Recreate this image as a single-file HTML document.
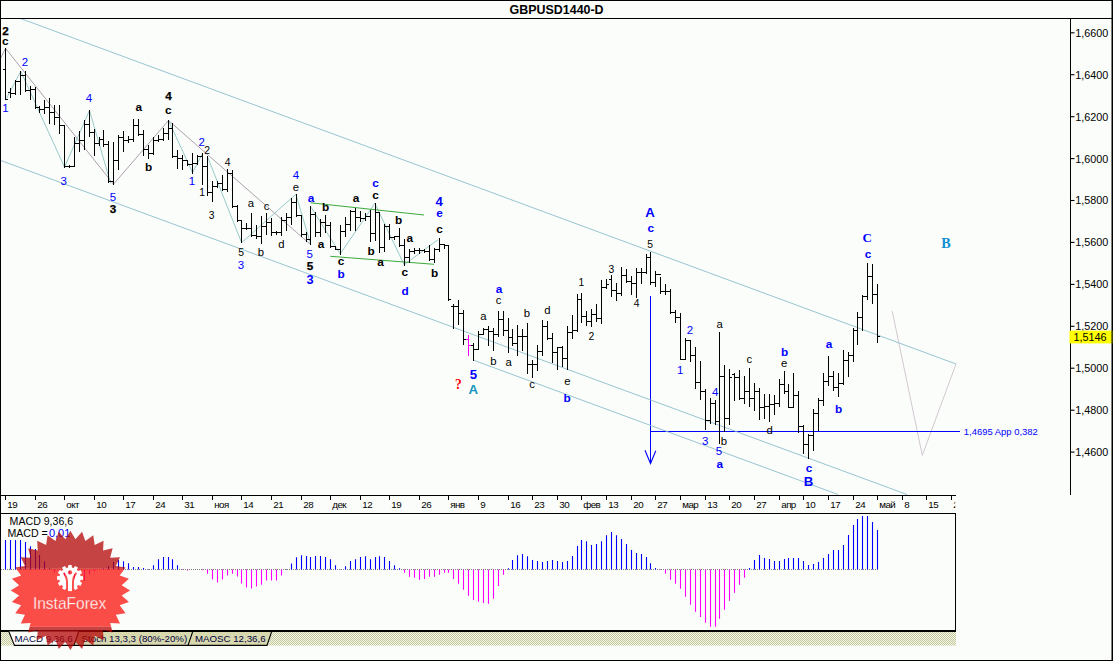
<!DOCTYPE html>
<html><head><meta charset="utf-8"><title>GBPUSD1440-D</title>
<style>
html,body{margin:0;padding:0;background:#fbfdfa;}
body{width:1113px;height:661px;overflow:hidden;font-family:"Liberation Sans",sans-serif;}
svg{display:block;font-family:"Liberation Sans",sans-serif;}
.kb{font-size:10.4px;font-weight:bold;fill:#000;stroke:#000;stroke-width:0.25px}
.kB{font-size:11.8px;font-weight:bold;fill:#000}
.b{font-size:11.5px;fill:#0000ff}
.s{font-size:10.3px;fill:#000}
.l{font-size:11.3px;fill:#000}
.bb{font-size:11.8px;font-weight:bold;fill:#0000ff}
.BM{font-size:12.8px;font-weight:bold;fill:#0000ff}
.BL{font-size:13.2px;font-weight:bold;fill:#0000ff}
.CS{font-size:13.0px;font-weight:bold;fill:#0000ff;font-family:"Liberation Serif",serif}
.TL{font-size:13.2px;font-weight:bold;fill:#1496be}
.TB{font-size:14.2px;font-weight:bold;fill:#0f8fd2;font-family:"Liberation Serif",serif}
.R{font-size:13.6px;font-weight:bold;fill:#ff0000;font-family:"Liberation Serif",serif}
.ax{font-size:10.8px;fill:#000}
.dt{font-size:9.8px;fill:#000;letter-spacing:-0.6px}
.tab{font-size:9.7px;fill:#000040}
</style></head><body>
<svg width="1113" height="661" viewBox="0 0 1113 661">
<rect x="0" y="0" width="1113" height="661" fill="#fbfdfa"/>

<g id="zigzag">
<polyline points="0.0,59.5 5.5,48.3 113.5,184.2 168.5,120.5 310.5,244.5" fill="none" stroke="#a595a5" stroke-width="0.9" />
<polyline points="6.3,98.6 20.8,71.3 64.5,167.2 89.5,110.4 110.7,183.5" fill="none" stroke="#8cc4c4" stroke-width="0.9" />
<polyline points="168.6,120.7 192.5,172.5 202.6,153.4" fill="none" stroke="#8cc4c4" stroke-width="0.9" />
<polyline points="207.6,157.0 241.6,242.6 295.9,194.3 310.7,244.5" fill="none" stroke="#8cc4c4" stroke-width="0.9" />
<polyline points="310.7,206.6 340.2,253.9 374.8,203.4 404.2,264.7 438.2,239.6" fill="none" stroke="#8cc4c4" stroke-width="0.9" />
<line x1="310.7" y1="202.8" x2="424.0" y2="215.0" stroke="#26a026" stroke-width="1.0" stroke-opacity="0.9"/>
<line x1="330.3" y1="256.3" x2="434.0" y2="264.3" stroke="#26a026" stroke-width="1.0" stroke-opacity="0.9"/>
<polyline points="892.2,311.0 922.3,455.4 956.0,364.0" fill="none" stroke="#cdc2cd" stroke-width="0.9" />
</g>
<g id="blue">
<line x1="650.5" y1="296.0" x2="650.5" y2="463.0" stroke="#0000ff" stroke-width="1" shape-rendering="crispEdges"/>
<polyline points="645.0,450.3 650.5,463.5 655.8,450.8" fill="none" stroke="#0000ff" stroke-width="1.1" />
<line x1="650.5" y1="431.5" x2="960.0" y2="431.5" stroke="#0000ff" stroke-width="1" shape-rendering="crispEdges"/>
<text x="963.8" y="435.2" textLength="74" lengthAdjust="spacingAndGlyphs" style="font-size:9.8px;fill:#0000ff">1,4695 App 0,382</text>
</g>
<g id="channels">
<line x1="20.5" y1="18.5" x2="956.0" y2="364.0" stroke="#86bbc9" stroke-width="0.85" />
<line x1="0.0" y1="160.2" x2="907.0" y2="494.5" stroke="#86bbc9" stroke-width="0.85" />
<line x1="473.0" y1="360.0" x2="838.0" y2="494.5" stroke="#86bbc9" stroke-width="0.85" />
</g>
<path d="M5.5 48V100M3.0 69.5H5.5M5.5 99.5H8.0M10.5 88V98M8.0 92.5H10.5M10.5 93.5H13.0M15.5 80V95M13.0 93.5H15.5M15.5 81.5H18.0M20.5 71V95M18.0 81.5H20.5M20.5 75.5H23.0M25.5 71V92M23.0 75.5H25.5M25.5 90.5H28.0M30.5 86V100M28.0 90.5H30.5M30.5 89.5H33.0M35.5 87V109M33.0 89.5H35.5M35.5 107.5H38.0M39.5 106V113M37.0 107.5H39.5M39.5 109.5H42.0M44.5 100V114M42.0 109.5H44.5M44.5 107.5H47.0M49.5 98V124M47.0 107.5H49.5M49.5 112.5H52.0M54.5 105V125M52.0 112.5H54.5M54.5 117.5H57.0M59.5 105V134M57.0 117.5H59.5M59.5 125.5H62.0M64.5 125V168M62.0 125.5H64.5M64.5 166.5H67.0M69.5 165V168M67.0 166.5H69.5M69.5 166.5H72.0M74.5 137V167M72.0 166.5H74.5M74.5 143.5H77.0M79.5 131V152M77.0 143.5H79.5M79.5 140.5H82.0M84.5 120V150M82.0 140.5H84.5M84.5 124.5H87.0M89.5 110V137M87.0 124.5H89.5M89.5 132.5H92.0M94.5 129V156M92.0 132.5H94.5M94.5 143.5H97.0M99.5 137V146M97.0 143.5H99.5M99.5 139.5H102.0M103.5 130V147M101.0 139.5H103.5M103.5 144.5H106.0M108.5 141V183M106.0 144.5H108.5M108.5 181.5H111.0M113.5 142V185M111.0 181.5H113.5M113.5 160.5H116.0M118.5 135V170M116.0 160.5H118.5M118.5 137.5H121.0M123.5 131V152M121.0 137.5H123.5M123.5 140.5H126.0M128.5 136V143M126.0 140.5H128.5M128.5 139.5H131.0M133.5 119V142M131.0 139.5H133.5M133.5 125.5H136.0M138.5 119V136M136.0 125.5H138.5M138.5 134.5H141.0M143.5 130V156M141.0 134.5H143.5M143.5 149.5H146.0M148.5 145V159M146.0 149.5H148.5M148.5 153.5H151.0M153.5 137V155M151.0 153.5H153.5M153.5 140.5H156.0M158.5 135V142M156.0 140.5H158.5M158.5 139.5H161.0M163.5 128V141M161.0 139.5H163.5M163.5 133.5H166.0M168.5 120V140M166.0 133.5H168.5M168.5 128.5H171.0M172.5 123V158M170.0 128.5H172.5M172.5 156.5H175.0M177.5 150V169M175.0 156.5H177.5M177.5 158.5H180.0M182.5 155V170M180.0 158.5H182.5M182.5 160.5H185.0M187.5 160V166M185.0 160.5H187.5M187.5 164.5H190.0M192.5 153V174M190.0 164.5H192.5M192.5 163.5H195.0M197.5 155V165M195.0 163.5H197.5M197.5 156.5H200.0M202.5 153V185M200.0 156.5H202.5M202.5 166.5H205.0M207.5 156V196M205.0 166.5H207.5M207.5 192.5H210.0M212.5 181V202M210.0 192.5H212.5M212.5 186.5H215.0M217.5 181V188M215.0 186.5H217.5M217.5 183.5H220.0M222.5 175V191M220.0 183.5H222.5M222.5 189.5H225.0M227.5 169V192M225.0 189.5H227.5M227.5 173.5H230.0M232.5 170V208M230.0 173.5H232.5M232.5 206.5H235.0M237.5 205V222M235.0 206.5H237.5M237.5 220.5H240.0M241.5 220V243M239.0 220.5H241.5M241.5 228.5H244.0M246.5 223V230M244.0 228.5H246.5M246.5 228.5H249.0M251.5 213V237M249.0 228.5H251.5M251.5 235.5H254.0M256.5 225V239M254.0 235.5H256.5M256.5 236.5H259.0M261.5 216V244M259.0 236.5H261.5M261.5 226.5H264.0M266.5 213V235M264.0 226.5H266.5M266.5 222.5H269.0M271.5 218V236M269.0 222.5H271.5M271.5 232.5H274.0M276.5 231V235M274.0 232.5H276.5M276.5 232.5H279.0M281.5 217V236M279.0 232.5H281.5M281.5 220.5H284.0M286.5 213V231M284.0 220.5H286.5M286.5 217.5H289.0M291.5 198V225M289.0 217.5H291.5M291.5 202.5H294.0M296.5 194V217M294.0 202.5H296.5M296.5 215.5H299.0M301.5 215V237M299.0 215.5H301.5M301.5 234.5H304.0M306.5 232V242M304.0 234.5H306.5M306.5 239.5H309.0M310.5 206V245M308.0 239.5H310.5M310.5 214.5H313.0M315.5 212V237M313.0 214.5H315.5M315.5 232.5H318.0M320.5 219V237M318.0 232.5H320.5M320.5 222.5H323.0M325.5 215V233M323.0 222.5H325.5M325.5 225.5H328.0M330.5 222V248M328.0 225.5H330.5M330.5 246.5H333.0M335.5 246V250M333.0 246.5H335.5M335.5 249.5H338.0M340.5 225V255M338.0 249.5H340.5M340.5 231.5H343.0M345.5 217V237M343.0 231.5H345.5M345.5 224.5H348.0M350.5 210V231M348.0 224.5H350.5M350.5 211.5H353.0M355.5 208V231M353.0 211.5H355.5M355.5 217.5H358.0M360.5 211V222M358.0 217.5H360.5M360.5 218.5H363.0M365.5 213V221M363.0 218.5H365.5M365.5 216.5H368.0M370.5 210V242M368.0 216.5H370.5M370.5 233.5H373.0M375.5 203V241M373.0 233.5H375.5M375.5 212.5H378.0M379.5 212V253M377.0 212.5H379.5M379.5 247.5H382.0M384.5 224V252M382.0 247.5H384.5M384.5 226.5H387.0M389.5 224V240M387.0 226.5H389.5M389.5 237.5H392.0M394.5 236V240M392.0 237.5H394.5M394.5 236.5H397.0M399.5 228V247M397.0 236.5H399.5M399.5 245.5H402.0M404.5 239V266M402.0 245.5H404.5M404.5 257.5H407.0M409.5 249V263M407.0 257.5H409.5M409.5 251.5H412.0M414.5 248V254M412.0 251.5H414.5M414.5 250.5H417.0M419.5 248V254M417.0 250.5H419.5M419.5 250.5H422.0M424.5 249V253M422.0 250.5H424.5M424.5 251.5H427.0M429.5 245V261M427.0 251.5H429.5M429.5 259.5H432.0M434.5 248V263M432.0 259.5H434.5M434.5 249.5H437.0M439.5 238V252M437.0 249.5H439.5M439.5 244.5H442.0M444.5 245V249M442.0 244.5H444.5M444.5 245.5H447.0M448.5 246V301M446.0 245.5H448.5M448.5 299.5H451.0M453.5 304V329M451.0 306.5H453.5M453.5 306.5H456.0M458.5 300V325M456.0 306.5H458.5M458.5 313.5H461.0M463.5 310V345M461.0 313.5H463.5M463.5 339.5H466.0M473.5 343V361M471.0 345.5H473.5M473.5 349.5H476.0M478.5 331V350M476.0 349.5H478.5M478.5 334.5H481.0M483.5 328V335M481.0 334.5H483.5M483.5 329.5H486.0M488.5 326V346M486.0 329.5H488.5M488.5 331.5H491.0M493.5 328V351M491.0 331.5H493.5M493.5 334.5H496.0M498.5 311V337M496.0 334.5H498.5M498.5 319.5H501.0M503.5 311V336M501.0 319.5H503.5M503.5 330.5H506.0M508.5 318V353M506.0 330.5H508.5M508.5 337.5H511.0M512.5 329V346M510.0 337.5H512.5M512.5 343.5H515.0M517.5 325V356M515.0 343.5H517.5M517.5 336.5H520.0M522.5 329V351M520.0 336.5H522.5M522.5 336.5H525.0M527.5 323V374M525.0 336.5H527.5M527.5 364.5H530.0M532.5 360V378M530.0 364.5H532.5M532.5 364.5H535.0M537.5 345V371M535.0 364.5H537.5M537.5 351.5H540.0M542.5 320V356M540.0 351.5H542.5M542.5 326.5H545.0M547.5 321V340M545.0 326.5H547.5M547.5 338.5H550.0M552.5 333V363M550.0 338.5H552.5M552.5 352.5H555.0M557.5 347V370M555.0 352.5H557.5M557.5 347.5H560.0M562.5 346V367M560.0 347.5H562.5M562.5 358.5H565.0M567.5 326V370M565.0 358.5H567.5M567.5 332.5H570.0M572.5 315V339M570.0 332.5H572.5M572.5 330.5H575.0M577.5 294V332M575.0 330.5H577.5M577.5 299.5H580.0M581.5 293V323M579.0 299.5H581.5M581.5 316.5H584.0M586.5 311V326M584.0 316.5H586.5M586.5 321.5H589.0M591.5 309V327M589.0 321.5H591.5M591.5 314.5H594.0M596.5 304V322M594.0 314.5H596.5M596.5 318.5H599.0M601.5 280V324M599.0 318.5H601.5M601.5 287.5H604.0M606.5 279V289M604.0 287.5H606.5M606.5 284.5H609.0M611.5 275V297M609.0 279.5H611.5M611.5 290.5H614.0M616.5 283V301M614.0 290.5H616.5M616.5 293.5H619.0M621.5 267V296M619.0 293.5H621.5M621.5 275.5H624.0M626.5 269V283M624.0 275.5H626.5M626.5 281.5H629.0M631.5 276V295M629.0 281.5H631.5M631.5 283.5H634.0M636.5 268V298M634.0 283.5H636.5M636.5 272.5H639.0M641.5 268V284M639.0 272.5H641.5M641.5 272.5H644.0M646.5 254V274M644.0 272.5H646.5M646.5 257.5H649.0M650.5 252V285M648.0 257.5H650.5M650.5 282.5H653.0M655.5 271V287M653.0 282.5H655.5M655.5 274.5H658.0M660.5 277V294M658.0 274.5H660.5M660.5 291.5H663.0M665.5 284V295M663.0 291.5H665.5M665.5 291.5H668.0M670.5 289V314M668.0 291.5H670.5M670.5 312.5H673.0M675.5 310V323M673.0 312.5H675.5M675.5 317.5H678.0M680.5 313V360M678.0 317.5H680.5M680.5 359.5H683.0M685.5 338V360M683.0 359.5H685.5M685.5 340.5H688.0M690.5 340V362M688.0 340.5H690.5M690.5 355.5H693.0M695.5 347V389M693.0 355.5H695.5M695.5 382.5H698.0M700.5 361V400M698.0 382.5H700.5M700.5 391.5H703.0M705.5 389V430M703.0 391.5H705.5M705.5 420.5H708.0M710.5 398V424M708.0 420.5H710.5M710.5 403.5H713.0M715.5 400V425M713.0 403.5H715.5M715.5 421.5H718.0M719.5 332V444M717.0 421.5H719.5M719.5 376.5H722.0M724.5 365V432M722.0 376.5H724.5M724.5 418.5H727.0M729.5 369V425M727.0 418.5H729.5M729.5 377.5H732.0M734.5 373V401M732.0 374.5H734.5M734.5 377.5H737.0M739.5 370V400M737.0 377.5H739.5M739.5 398.5H742.0M744.5 376V404M742.0 398.5H744.5M744.5 391.5H747.0M749.5 368V407M747.0 391.5H749.5M749.5 398.5H752.0M754.5 383V411M752.0 398.5H754.5M754.5 391.5H757.0M759.5 388V420M757.0 391.5H759.5M759.5 407.5H762.0M764.5 394V419M762.0 407.5H764.5M764.5 406.5H767.0M769.5 394V422M767.0 406.5H769.5M769.5 404.5H772.0M774.5 395V415M772.0 404.5H774.5M774.5 403.5H777.0M779.5 379V407M777.0 403.5H779.5M779.5 384.5H782.0M784.5 371V394M782.0 384.5H784.5M784.5 391.5H787.0M788.5 384V408M786.0 391.5H788.5M788.5 407.5H791.0M793.5 373V408M791.0 407.5H793.5M793.5 395.5H796.0M798.5 391V433M796.0 395.5H798.5M798.5 426.5H801.0M803.5 425V454M801.0 426.5H803.5M803.5 444.5H806.0M808.5 434V459M806.0 444.5H808.5M808.5 435.5H811.0M813.5 409V451M811.0 435.5H813.5M813.5 413.5H816.0M818.5 398V431M816.0 413.5H818.5M818.5 400.5H821.0M823.5 373V406M821.0 400.5H823.5M823.5 381.5H826.0M828.5 356V386M826.0 381.5H828.5M828.5 376.5H831.0M833.5 371V391M831.0 376.5H833.5M833.5 387.5H836.0M838.5 373V397M836.0 387.5H838.5M838.5 383.5H841.0M843.5 350V385M841.0 383.5H843.5M843.5 360.5H846.0M848.5 352V377M846.0 360.5H848.5M848.5 355.5H851.0M853.5 328V362M851.0 355.5H853.5M853.5 330.5H856.0M857.5 312V345M855.0 330.5H857.5M857.5 317.5H860.0M862.5 295V331M860.0 317.5H862.5M862.5 296.5H865.0M867.5 263V300M865.0 296.5H867.5M867.5 276.5H870.0M872.5 264V304M870.0 276.5H872.5M872.5 294.5H875.0M877.5 284V343M875.0 294.5H877.5M877.5 336.5H880.0" stroke="#000" stroke-width="1" fill="none" shape-rendering="crispEdges"/>
<path d="M468.5 335V356M466.0 339.5H468.5M468.5 345.5H471.0" stroke="#ff00ff" stroke-width="1" fill="none" shape-rendering="crispEdges"/>
<g id="labels" text-anchor="middle">
<text class="kb" x="5.4" y="34.6" textLength="6.5" lengthAdjust="spacingAndGlyphs">2</text>
<text class="kB" x="5.4" y="44.9">c</text>
<text class="b" x="25.0" y="66.3">2</text>
<text class="b" x="5.4" y="112.1">1</text>
<text class="b" x="89.0" y="101.7">4</text>
<text class="b" x="63.6" y="184.8">3</text>
<text class="b" x="113.0" y="200.7">5</text>
<text class="kb" x="113.0" y="212.6" textLength="6.5" lengthAdjust="spacingAndGlyphs">3</text>
<text class="kB" x="138.9" y="110.7">a</text>
<text class="kb" x="168.4" y="100.0" textLength="6.5" lengthAdjust="spacingAndGlyphs">4</text>
<text class="kB" x="168.4" y="114.3">c</text>
<text class="kB" x="148.5" y="170.8">b</text>
<text class="b" x="201.6" y="146.2">2</text>
<text class="s" x="207.0" y="153.5">2</text>
<text class="b" x="192.0" y="184.8">1</text>
<text class="s" x="202.0" y="195.7">1</text>
<text class="s" x="227.5" y="165.7">4</text>
<text class="s" x="211.6" y="218.9">3</text>
<text class="l" x="251.0" y="207.3">a</text>
<text class="l" x="266.5" y="209.6">c</text>
<text class="s" x="241.0" y="256.1">5</text>
<text class="b" x="241.0" y="268.8">3</text>
<text class="l" x="261.0" y="256.1">b</text>
<text class="l" x="281.5" y="248.4">d</text>
<text class="b" x="296.0" y="178.9">4</text>
<text class="l" x="296.0" y="191.4">e</text>
<text class="bb" x="311.0" y="201.5">a</text>
<text class="kB" x="325.5" y="210.8">b</text>
<text class="kB" x="321.0" y="248.3">a</text>
<text class="b" x="309.6" y="257.9">5</text>
<text class="kb" x="310.0" y="270.2" textLength="6.5" lengthAdjust="spacingAndGlyphs">5</text>
<text class="BM" x="310.0" y="283.8">3</text>
<text class="kB" x="356.0" y="202.4">a</text>
<text class="bb" x="375.5" y="187.0">c</text>
<text class="kB" x="375.5" y="199.2">c</text>
<text class="kB" x="341.0" y="264.6">c</text>
<text class="bb" x="341.0" y="278.0">b</text>
<text class="kB" x="371.0" y="255.2">b</text>
<text class="kB" x="380.5" y="265.5">a</text>
<text class="kB" x="398.5" y="224.1">b</text>
<text class="BL" x="439.2" y="206.2">4</text>
<text class="bb" x="439.6" y="216.7">e</text>
<text class="kB" x="439.6" y="232.8">c</text>
<text class="kB" x="409.9" y="241.9">a</text>
<text class="kB" x="404.8" y="275.8">c</text>
<text class="bb" x="405.1" y="295.4">d</text>
<text class="kB" x="434.6" y="277.1">b</text>
<text class="bb" x="499.0" y="293.1">a</text>
<text class="l" x="498.5" y="303.5">c</text>
<text class="s" x="581.4" y="285.5">1</text>
<text class="l" x="483.5" y="320.3">a</text>
<text class="l" x="527.0" y="317.2">b</text>
<text class="l" x="547.5" y="314.2">d</text>
<text class="l" x="493.5" y="364.5">b</text>
<text class="l" x="508.7" y="366.1">a</text>
<text class="l" x="532.1" y="388.4">c</text>
<text class="l" x="567.3" y="384.6">e</text>
<text class="BL" x="473.3" y="379.4">5</text>
<text class="TL" x="473.3" y="394.3">A</text>
<text class="R" x="458.5" y="388.5">?</text>
<text class="s" x="591.4" y="339.5">2</text>
<text class="s" x="636.5" y="307.3">4</text>
<text class="s" x="611.3" y="272.5">3</text>
<text class="bb" x="567.0" y="402.2">b</text>
<text class="BL" x="650.0" y="216.8">A</text>
<text class="bb" x="650.9" y="231.9">c</text>
<text class="s" x="650.2" y="247.6">5</text>
<text class="b" x="690.0" y="334.1">2</text>
<text class="l" x="719.7" y="327.5">a</text>
<text class="b" x="680.3" y="373.7">1</text>
<text class="b" x="715.1" y="396.0">4</text>
<text class="l" x="749.3" y="362.6">c</text>
<text class="bb" x="784.7" y="356.2">b</text>
<text class="l" x="784.2" y="366.9">e</text>
<text class="bb" x="829.0" y="347.7">a</text>
<text class="bb" x="838.6" y="413.2">b</text>
<text class="l" x="769.6" y="434.3">d</text>
<text class="b" x="705.2" y="445.4">3</text>
<text class="l" x="724.0" y="445.0">b</text>
<text class="b" x="719.0" y="455.0">5</text>
<text class="bb" x="719.9" y="467.9">a</text>
<text class="bb" x="809.0" y="472.0">c</text>
<text class="BL" x="808.4" y="486.4">B</text>
<text class="CS" x="867.2" y="242.2">C</text>
<text class="bb" x="868.1" y="257.9">c</text>
<text class="TB" x="946.1" y="248.3">B</text>
</g>
<g id="frame" shape-rendering="crispEdges">
<rect x="0.5" y="0.5" width="1111.5" height="659.5" fill="none" stroke="#000" stroke-width="1"/>
<line x1="0" y1="18.5" x2="1113" y2="18.5" stroke="#000" stroke-width="1.4"/>
<line x1="1070.5" y1="18" x2="1070.5" y2="495" stroke="#000" stroke-width="1.2"/>
<line x1="0" y1="495.5" x2="956" y2="495.5" stroke="#000" stroke-width="1.2"/>
<line x1="0" y1="513.5" x2="956" y2="513.5" stroke="#000" stroke-width="1.2"/>
<line x1="955.8" y1="513" x2="955.8" y2="632" stroke="#000" stroke-width="1.2"/>
<line x1="0" y1="630.8" x2="956" y2="630.8" stroke="#000" stroke-width="2"/>
</g>
<text x="509.6" y="13.7" textLength="94" lengthAdjust="spacingAndGlyphs" style="font-size:12px;font-weight:bold;fill:#000">GBPUSD1440-D</text>
<line x1="1070.5" y1="32.8" x2="1074.5" y2="32.8" stroke="#000" stroke-width="1.1" />
<text class="ax" x="1075.2" y="36.7">1,6600</text>
<line x1="1070.5" y1="74.7" x2="1074.5" y2="74.7" stroke="#000" stroke-width="1.1" />
<text class="ax" x="1075.2" y="78.6">1,6400</text>
<line x1="1070.5" y1="116.7" x2="1074.5" y2="116.7" stroke="#000" stroke-width="1.1" />
<text class="ax" x="1075.2" y="120.6">1,6200</text>
<line x1="1070.5" y1="158.6" x2="1074.5" y2="158.6" stroke="#000" stroke-width="1.1" />
<text class="ax" x="1075.2" y="162.5">1,6000</text>
<line x1="1070.5" y1="200.5" x2="1074.5" y2="200.5" stroke="#000" stroke-width="1.1" />
<text class="ax" x="1075.2" y="204.4">1,5800</text>
<line x1="1070.5" y1="242.4" x2="1074.5" y2="242.4" stroke="#000" stroke-width="1.1" />
<text class="ax" x="1075.2" y="246.3">1,5600</text>
<line x1="1070.5" y1="284.4" x2="1074.5" y2="284.4" stroke="#000" stroke-width="1.1" />
<text class="ax" x="1075.2" y="288.3">1,5400</text>
<line x1="1070.5" y1="326.3" x2="1074.5" y2="326.3" stroke="#000" stroke-width="1.1" />
<text class="ax" x="1075.2" y="330.2">1,5200</text>
<line x1="1070.5" y1="368.2" x2="1074.5" y2="368.2" stroke="#000" stroke-width="1.1" />
<text class="ax" x="1075.2" y="372.1">1,5000</text>
<line x1="1070.5" y1="410.2" x2="1074.5" y2="410.2" stroke="#000" stroke-width="1.1" />
<text class="ax" x="1075.2" y="414.1">1,4800</text>
<line x1="1070.5" y1="452.1" x2="1074.5" y2="452.1" stroke="#000" stroke-width="1.1" />
<text class="ax" x="1075.2" y="456.0">1,4600</text>
<rect x="1069.5" y="330.6" width="43" height="12.8" fill="#ffff00"/>
<text class="ax" x="1073.6" y="341.4">1,5146</text>
<line x1="1112" y1="0" x2="1112" y2="661" stroke="#000" stroke-width="1"/>
<line x1="5.5" y1="495" x2="5.5" y2="500" stroke="#000" stroke-width="1" shape-rendering="crispEdges"/>
<text class="dt" x="7.3" y="508.1">19</text>
<line x1="35.5" y1="495" x2="35.5" y2="500" stroke="#000" stroke-width="1" shape-rendering="crispEdges"/>
<text class="dt" x="37.3" y="508.1">26</text>
<line x1="64.5" y1="495" x2="64.5" y2="500" stroke="#000" stroke-width="1" shape-rendering="crispEdges"/>
<text class="dt" x="66.3" y="508.1">окт</text>
<line x1="94.5" y1="495" x2="94.5" y2="500" stroke="#000" stroke-width="1" shape-rendering="crispEdges"/>
<text class="dt" x="96.3" y="508.1">10</text>
<line x1="123.5" y1="495" x2="123.5" y2="500" stroke="#000" stroke-width="1" shape-rendering="crispEdges"/>
<text class="dt" x="125.3" y="508.1">17</text>
<line x1="153.5" y1="495" x2="153.5" y2="500" stroke="#000" stroke-width="1" shape-rendering="crispEdges"/>
<text class="dt" x="155.3" y="508.1">24</text>
<line x1="182.5" y1="495" x2="182.5" y2="500" stroke="#000" stroke-width="1" shape-rendering="crispEdges"/>
<text class="dt" x="184.3" y="508.1">31</text>
<line x1="212.5" y1="495" x2="212.5" y2="500" stroke="#000" stroke-width="1" shape-rendering="crispEdges"/>
<text class="dt" x="214.3" y="508.1">ноя</text>
<line x1="241.5" y1="495" x2="241.5" y2="500" stroke="#000" stroke-width="1" shape-rendering="crispEdges"/>
<text class="dt" x="243.3" y="508.1">14</text>
<line x1="271.5" y1="495" x2="271.5" y2="500" stroke="#000" stroke-width="1" shape-rendering="crispEdges"/>
<text class="dt" x="273.3" y="508.1">21</text>
<line x1="301.5" y1="495" x2="301.5" y2="500" stroke="#000" stroke-width="1" shape-rendering="crispEdges"/>
<text class="dt" x="303.3" y="508.1">28</text>
<line x1="330.5" y1="495" x2="330.5" y2="500" stroke="#000" stroke-width="1" shape-rendering="crispEdges"/>
<text class="dt" x="332.3" y="508.1">дек</text>
<line x1="360.5" y1="495" x2="360.5" y2="500" stroke="#000" stroke-width="1" shape-rendering="crispEdges"/>
<text class="dt" x="362.3" y="508.1">12</text>
<line x1="389.5" y1="495" x2="389.5" y2="500" stroke="#000" stroke-width="1" shape-rendering="crispEdges"/>
<text class="dt" x="391.3" y="508.1">19</text>
<line x1="419.5" y1="495" x2="419.5" y2="500" stroke="#000" stroke-width="1" shape-rendering="crispEdges"/>
<text class="dt" x="421.3" y="508.1">26</text>
<line x1="448.5" y1="495" x2="448.5" y2="500" stroke="#000" stroke-width="1" shape-rendering="crispEdges"/>
<text class="dt" x="450.3" y="508.1">янв</text>
<line x1="478.5" y1="495" x2="478.5" y2="500" stroke="#000" stroke-width="1" shape-rendering="crispEdges"/>
<text class="dt" x="480.3" y="508.1">9</text>
<line x1="508.5" y1="495" x2="508.5" y2="500" stroke="#000" stroke-width="1" shape-rendering="crispEdges"/>
<text class="dt" x="510.3" y="508.1">16</text>
<line x1="532.5" y1="495" x2="532.5" y2="500" stroke="#000" stroke-width="1" shape-rendering="crispEdges"/>
<text class="dt" x="534.3" y="508.1">23</text>
<line x1="557.5" y1="495" x2="557.5" y2="500" stroke="#000" stroke-width="1" shape-rendering="crispEdges"/>
<text class="dt" x="559.3" y="508.1">30</text>
<line x1="581.5" y1="495" x2="581.5" y2="500" stroke="#000" stroke-width="1" shape-rendering="crispEdges"/>
<text class="dt" x="583.3" y="508.1">фев</text>
<line x1="606.5" y1="495" x2="606.5" y2="500" stroke="#000" stroke-width="1" shape-rendering="crispEdges"/>
<text class="dt" x="608.3" y="508.1">13</text>
<line x1="631.5" y1="495" x2="631.5" y2="500" stroke="#000" stroke-width="1" shape-rendering="crispEdges"/>
<text class="dt" x="633.3" y="508.1">20</text>
<line x1="655.5" y1="495" x2="655.5" y2="500" stroke="#000" stroke-width="1" shape-rendering="crispEdges"/>
<text class="dt" x="657.3" y="508.1">27</text>
<line x1="680.5" y1="495" x2="680.5" y2="500" stroke="#000" stroke-width="1" shape-rendering="crispEdges"/>
<text class="dt" x="682.3" y="508.1">мар</text>
<line x1="705.5" y1="495" x2="705.5" y2="500" stroke="#000" stroke-width="1" shape-rendering="crispEdges"/>
<text class="dt" x="707.3" y="508.1">13</text>
<line x1="729.5" y1="495" x2="729.5" y2="500" stroke="#000" stroke-width="1" shape-rendering="crispEdges"/>
<text class="dt" x="731.3" y="508.1">20</text>
<line x1="754.5" y1="495" x2="754.5" y2="500" stroke="#000" stroke-width="1" shape-rendering="crispEdges"/>
<text class="dt" x="756.3" y="508.1">27</text>
<line x1="779.5" y1="495" x2="779.5" y2="500" stroke="#000" stroke-width="1" shape-rendering="crispEdges"/>
<text class="dt" x="781.3" y="508.1">апр</text>
<line x1="803.5" y1="495" x2="803.5" y2="500" stroke="#000" stroke-width="1" shape-rendering="crispEdges"/>
<text class="dt" x="805.3" y="508.1">10</text>
<line x1="828.5" y1="495" x2="828.5" y2="500" stroke="#000" stroke-width="1" shape-rendering="crispEdges"/>
<text class="dt" x="830.3" y="508.1">17</text>
<line x1="853.5" y1="495" x2="853.5" y2="500" stroke="#000" stroke-width="1" shape-rendering="crispEdges"/>
<text class="dt" x="855.3" y="508.1">24</text>
<line x1="877.5" y1="495" x2="877.5" y2="500" stroke="#000" stroke-width="1" shape-rendering="crispEdges"/>
<text class="dt" x="879.3" y="508.1">май</text>
<line x1="902.5" y1="495" x2="902.5" y2="500" stroke="#000" stroke-width="1" shape-rendering="crispEdges"/>
<text class="dt" x="904.3" y="508.1">8</text>
<line x1="926.5" y1="495" x2="926.5" y2="500" stroke="#000" stroke-width="1" shape-rendering="crispEdges"/>
<text class="dt" x="928.3" y="508.1">15</text>
<line x1="951.5" y1="495" x2="951.5" y2="500" stroke="#000" stroke-width="1" shape-rendering="crispEdges"/>
<text class="dt" x="953.3" y="508.1" clip-path="url(#cl)">2</text>
<defs><clipPath id="cl"><rect x="0" y="496" width="955.3" height="17"/></clipPath></defs>
<line x1="1" y1="569.5" x2="878" y2="569.5" stroke="#808080" stroke-width="1" stroke-dasharray="1 1" shape-rendering="crispEdges"/>
<path d="M5.5 569.6V540.0M10.5 569.6V540.0M15.5 569.6V540.0M20.5 569.6V540.0M25.5 569.6V542.0M30.5 569.6V546.3M35.5 569.6V549.1M39.5 569.6V555.0M44.5 569.6V561.3M49.5 569.6V568.3M103.5 569.6V568.6M108.5 569.6V566.3M113.5 569.6V562.1M118.5 569.6V559.9M123.5 569.6V561.3M128.5 569.6V563.3M133.5 569.6V567.1M138.5 569.6V567.1M143.5 569.6V568.1M148.5 569.6V569.0M153.5 569.6V565.2M158.5 569.6V559.2M163.5 569.6V557.1M168.5 569.6V557.1M172.5 569.6V559.2M177.5 569.6V565.2M286.5 569.6V569.0M291.5 569.6V563.4M296.5 569.6V557.3M301.5 569.6V555.2M306.5 569.6V556.0M310.5 569.6V557.1M315.5 569.6V556.0M320.5 569.6V556.0M325.5 569.6V557.1M330.5 569.6V559.2M335.5 569.6V565.2M340.5 569.6V569.2M345.5 569.6V566.2M350.5 569.6V561.1M355.5 569.6V559.2M360.5 569.6V557.1M365.5 569.6V556.2M370.5 569.6V559.2M375.5 569.6V557.1M379.5 569.6V556.2M384.5 569.6V557.1M389.5 569.6V561.1M394.5 569.6V565.2M399.5 569.6V568.3M508.5 569.6V568.3M512.5 569.6V560.1M517.5 569.6V555.2M522.5 569.6V554.1M527.5 569.6V556.2M532.5 569.6V560.1M537.5 569.6V561.1M542.5 569.6V562.0M547.5 569.6V561.1M552.5 569.6V560.1M557.5 569.6V561.1M562.5 569.6V562.0M567.5 569.6V561.1M572.5 569.6V556.0M577.5 569.6V546.1M581.5 569.6V540.1M586.5 569.6V541.2M591.5 569.6V545.0M596.5 569.6V544.1M601.5 569.6V541.2M606.5 569.6V535.2M611.5 569.6V532.1M616.5 569.6V535.2M621.5 569.6V539.1M626.5 569.6V544.1M631.5 569.6V550.1M636.5 569.6V553.1M641.5 569.6V554.1M646.5 569.6V557.1M650.5 569.6V563.2M655.5 569.6V568.1M749.5 569.6V568.1M754.5 569.6V560.1M759.5 569.6V555.0M764.5 569.6V558.1M769.5 569.6V559.0M774.5 569.6V561.1M779.5 569.6V561.1M784.5 569.6V559.0M788.5 569.6V558.1M793.5 569.6V558.1M798.5 569.6V558.1M803.5 569.6V561.1M808.5 569.6V565.1M813.5 569.6V564.1M818.5 569.6V562.0M823.5 569.6V558.1M828.5 569.6V554.1M833.5 569.6V550.1M838.5 569.6V550.1M843.5 569.6V545.0M848.5 569.6V535.0M853.5 569.6V525.0M857.5 569.6V519.1M862.5 569.6V516.1M867.5 569.6V516.1M872.5 569.6V522.1M877.5 569.6V530.1" stroke="#0000ff" stroke-width="1.1" fill="none"/>
<path d="M54.5 569.6V572.6M59.5 569.6V575.6M64.5 569.6V578.6M69.5 569.6V580.6M74.5 569.6V581.6M79.5 569.6V581.6M84.5 569.6V580.8M89.5 569.6V574.6M94.5 569.6V571.6M182.5 569.6V570.0M187.5 569.6V570.6M202.5 569.6V570.2M207.5 569.6V573.8M212.5 569.6V579.6M217.5 569.6V582.5M222.5 569.6V579.6M227.5 569.6V575.6M232.5 569.6V573.8M237.5 569.6V576.6M241.5 569.6V583.4M246.5 569.6V587.6M251.5 569.6V588.5M256.5 569.6V586.6M261.5 569.6V584.7M266.5 569.6V580.6M271.5 569.6V580.6M276.5 569.6V580.6M281.5 569.6V575.6M404.5 569.6V572.8M409.5 569.6V576.8M414.5 569.6V577.7M419.5 569.6V579.8M424.5 569.6V578.9M429.5 569.6V576.8M434.5 569.6V576.8M439.5 569.6V574.7M444.5 569.6V572.8M448.5 569.6V572.8M453.5 569.6V578.9M458.5 569.6V583.8M463.5 569.6V589.8M468.5 569.6V595.7M473.5 569.6V599.9M478.5 569.6V601.8M483.5 569.6V602.9M488.5 569.6V603.8M493.5 569.6V598.7M498.5 569.6V585.9M503.5 569.6V574.7M660.5 569.6V570.0M665.5 569.6V573.8M670.5 569.6V579.8M675.5 569.6V583.8M680.5 569.6V588.7M685.5 569.6V596.8M690.5 569.6V604.8M695.5 569.6V611.8M700.5 569.6V616.9M705.5 569.6V622.8M710.5 569.6V626.7M715.5 569.6V626.7M719.5 569.6V618.8M724.5 569.6V609.7M729.5 569.6V600.8M734.5 569.6V592.7M739.5 569.6V584.7M744.5 569.6V577.7" stroke="#ff00ff" stroke-width="1.1" fill="none"/>
<text x="9.6" y="524.9" style="font-size:10.6px;fill:#000">MACD 9,36,6</text>
<text x="7.4" y="536.9" style="font-size:10.6px;fill:#000">MACD =<tspan fill="#0000ff" x="48.9" textLength="21.5" lengthAdjust="spacingAndGlyphs">0,01</tspan></text>
<defs><pattern id="dots" width="2" height="2" patternUnits="userSpaceOnUse"><rect width="2" height="2" fill="#f4f6e8"/><rect width="1" height="1" fill="#c4c89c"/><rect x="1" y="1" width="1" height="1" fill="#c4c89c"/></pattern></defs>
<rect x="1" y="632" width="955" height="13.6" fill="url(#dots)"/>
<polygon points="78.5,632 271.5,632 267,645.5 74,645.5" fill="#d8d8ae"/>
<polygon points="9,631.5 78.5,631.5 74,645.5 14.5,645.5" fill="#fbfdfa"/>
<path d="M9 632L14.5 645.4H267L271.5 632M74 645.4L78.5 632M188 645.4L192.6 632" fill="none" stroke="#000" stroke-width="1.1"/>
<text class="tab" x="14.5" y="642.3">MACD 9,36,6</text>
<text class="tab" x="81.6" y="642.3">Stoch 13,3,3 (80%-20%)</text>
<text class="tab" x="195" y="642.3">MAOSC 12,36,6</text>
<defs><linearGradient id="bandg" x1="0" y1="0" x2="0" y2="1"><stop offset="0" stop-color="#fc1813"/><stop offset="0.55" stop-color="#fa1712"/><stop offset="1" stop-color="#e6120e"/></linearGradient></defs>
<defs><clipPath id="star"><polygon points="70.40,530.70 75.45,539.15 82.05,531.85 85.35,541.12 93.25,535.24 94.68,544.98 103.57,540.76 103.07,550.59 112.61,548.19 110.21,557.73 120.04,557.23 115.82,566.12 125.56,567.55 119.68,575.45 128.95,578.75 121.65,585.35 130.10,590.40 121.65,595.45 128.95,602.05 119.68,605.35 125.56,613.25 115.82,614.68 120.04,623.57 110.21,623.07 112.61,632.61 103.07,630.21 103.57,640.04 94.68,635.82 93.25,645.56 85.35,639.68 82.05,648.95 75.45,641.65 70.40,650.10 65.35,641.65 58.75,648.95 55.45,639.68 47.55,645.56 46.12,635.82 37.23,640.04 37.73,630.21 28.19,632.61 30.59,623.07 20.76,623.57 24.98,614.68 15.24,613.25 21.12,605.35 11.85,602.05 19.15,595.45 10.70,590.40 19.15,585.35 11.85,578.75 21.12,575.45 15.24,567.55 24.98,566.12 20.76,557.23 30.59,557.73 28.19,548.19 37.73,550.59 37.23,540.76 46.12,544.98 47.55,535.24 55.45,541.12 58.75,531.85 65.35,539.15"/></clipPath></defs>
<g clip-path="url(#star)"><rect x="5" y="525" width="132" height="43.8" fill="#b40808" fill-opacity="0.76"/><rect x="5" y="626.8" width="132" height="30" fill="#b40808" fill-opacity="0.76"/><rect x="5" y="568.8" width="132" height="58" fill="#fa1712" fill-opacity="0.77"/></g>
<defs><mask id="gm" maskUnits="userSpaceOnUse" x="50" y="560" width="40" height="40">
<polygon points="68.36,565.00 71.64,565.00 71.89,567.47 73.62,567.93 75.08,565.92 77.92,567.57 76.91,569.83 78.17,571.09 80.43,570.08 82.08,572.92 80.07,574.38 80.53,576.11 83.00,576.36 83.00,579.64 80.53,579.89 80.07,581.62 82.08,583.08 80.43,585.92 78.17,584.91 76.91,586.17 77.92,588.43 75.08,590.08 73.62,588.07 71.89,588.53 71.64,591.00 68.36,591.00 68.11,588.53 66.38,588.07 64.92,590.08 62.08,588.43 63.09,586.17 61.83,584.91 59.57,585.92 57.92,583.08 59.93,581.62 59.47,579.89 57.00,579.64 57.00,576.36 59.47,576.11 59.93,574.38 57.92,572.92 59.57,570.08 61.83,571.09 63.09,569.83 62.08,567.57 64.92,565.92 66.38,567.93 68.11,567.47" fill="#fff"/>
<rect x="68.0" y="586.0" width="4" height="5.1" fill="#fff"/>
<circle cx="70.0" cy="572.4" r="2.1" fill="#000"/>
<path d="M64.10 573.40 Q66.60 576.80 67.00 581.00 L67.10 591.50" stroke="#000" stroke-width="1.9" fill="none" stroke-linecap="round"/>
<path d="M75.90 573.40 Q73.40 576.80 73.00 581.00 L72.90 591.50" stroke="#000" stroke-width="1.9" fill="none" stroke-linecap="round"/>
</mask></defs>
<rect x="50" y="560" width="40" height="40" fill="#fff" mask="url(#gm)"/>
<text x="32.9" y="608.8" textLength="73.4" lengthAdjust="spacingAndGlyphs" style="font-size:16.6px;fill:#fff;stroke:#f8524e;stroke-width:0.3px">InstaForex</text>
</svg></body></html>
